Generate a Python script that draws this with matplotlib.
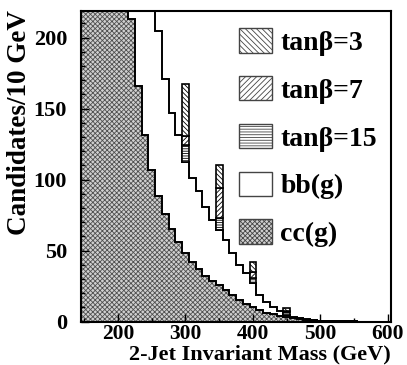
import numpy as np
import matplotlib
matplotlib.use("Agg")
import matplotlib.pyplot as plt
from matplotlib.patches import Patch

plt.rcParams['font.family'] = ['Liberation Serif', 'DejaVu Serif']
plt.rcParams['font.weight'] = 'bold'
plt.rcParams['hatch.linewidth'] = 0.6

# 10 GeV bins, low edges 145 ... 595
edges = np.arange(145, 615, 10)

# cc(g) background per bin
cc = [420, 400, 375, 345, 315, 285, 250, 213, 166, 131.5,
      106.7, 88.4, 75.5, 65, 56, 48.5, 42, 36.8, 31.8, 28.5,
      25.7, 22, 18.7, 15, 12.5, 10, 8, 6.3, 5, 3.9,
      3.1, 2.4, 1.8, 1.3, 0.9, 0.6, 0.4, 0.3, 0.2, 0.1,
      0.1, 0, 0, 0, 0, 0]

# bb(g) background per bin (stacked on cc)
bb = [320, 310, 300, 285, 270, 255, 240, 225, 205, 185,
      150, 116.4, 95.3, 82, 75.3, 64, 58.8, 55.1, 49, 43,
      38.7, 35.4, 29.3, 24.8, 21.4, 17, 10.7, 7.7, 5.5, 3.4,
      1.7, 0.8, 0.4, 0.2, 0.1, 0.1, 0.05, 0, 0, 0,
      0, 0, 0, 0, 0, 0]

# Higgs signal at several masses, stacked on top of background
higgs_mass = [300, 350, 400, 450]
sig_tb15 = [12, 8.3, 4, 1.9]
sig_tb7 = [6, 21.3, 4, 1]
sig_tb3 = [37, 16, 7, 2]

x_ticks = [200, 300, 400, 500, 600]
y_ticks = [0, 50, 100, 150, 200]

cc = np.array(cc)
bb = np.array(bb)
total = cc + bb

fig = plt.figure(figsize=(4.07, 3.65), dpi=100)
ax = fig.add_axes([0.199, 0.119, 0.762, 0.852])

hatch_col = '#505050'
# cc(g): hatched fill, then its outline
ax.stairs(cc, edges, fill=True, facecolor='#d0d0d0', edgecolor=hatch_col,
          hatch='xxxxxxx', linewidth=0)
ax.stairs(cc, edges, color='black', linewidth=1.4)
# bb(g)+cc(g) outline
ax.stairs(total, edges, color='black', linewidth=1.4)

# signal bars
idx = np.searchsorted(edges, higgs_mass, side='right') - 1
base = total[idx]
centers = edges[idx] + 5
b1 = base
b2 = b1 + np.array(sig_tb15)
b3 = b2 + np.array(sig_tb7)
ax.bar(centers, sig_tb15, width=10, bottom=b1, facecolor='white',
       edgecolor='black', hatch='-------', linewidth=1.2)
ax.bar(centers, sig_tb7, width=10, bottom=b2, facecolor='white',
       edgecolor='black', hatch='///////', linewidth=1.2)
ax.bar(centers, sig_tb3, width=10, bottom=b3, facecolor='white',
       edgecolor='black', hatch='\\\\\\\\\\\\\\', linewidth=1.2)

ax.set_xlim(145, 605)
ax.set_ylim(0, 219)
ax.set_xticks(x_ticks)
ax.set_yticks(y_ticks)
ax.set_xticks(np.arange(150, 605, 50), minor=True)
ax.set_yticks(np.arange(0, 219, 10), minor=True)
ax.tick_params(which='both', direction='in', width=1)
ax.tick_params(which='major', length=6)
ax.tick_params(which='minor', length=3)
ax.tick_params(axis='y', pad=10, labelsize=16)
ax.tick_params(axis='x', pad=2, labelsize=15.5)
for s in ax.spines.values():
    s.set_linewidth(1.5)

ax.set_xlabel('2-Jet Invariant Mass (GeV)', fontsize=16, fontweight='bold',
              loc='right', labelpad=0)
ax.set_ylabel('Candidates/10 GeV', fontsize=19.5, fontweight='bold', loc='top')
ax.yaxis.set_label_coords(-0.158, 1.0)

handles = [
    Patch(facecolor='white', edgecolor='#444444', hatch='\\\\\\\\\\\\', label='tanβ=3'),
    Patch(facecolor='white', edgecolor='#444444', hatch='//////', label='tanβ=7'),
    Patch(facecolor='white', edgecolor='#444444', hatch='------', label='tanβ=15'),
    Patch(facecolor='white', edgecolor='#444444', label='bb(g)'),
    Patch(facecolor='#d0d0d0', edgecolor='#444444', hatch='xxxxxxx', label='cc(g)'),
]
ax.legend(handles=handles, loc='upper left', bbox_to_anchor=(0.509, 0.945),
          frameon=False, handlelength=1.19, handleheight=1.0,
          labelspacing=0.72, handletextpad=0.3, borderpad=0, borderaxespad=0,
          prop={'weight': 'bold', 'size': 20})

fig.savefig('out.png', dpi=100)
